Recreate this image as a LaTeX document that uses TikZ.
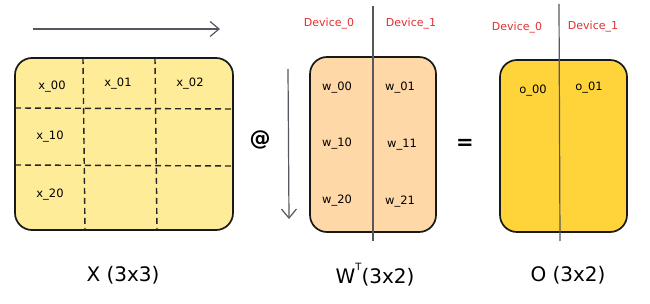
\documentclass[tikz,border=0pt]{standalone}
\usepackage{fontspec}
\setmainfont{DejaVu Sans}
\usetikzlibrary{arrows.meta}
\definecolor{xfill}{HTML}{FFEC99}
\definecolor{wfill}{HTML}{FFD8A8}
\definecolor{ofill}{HTML}{FFD43B}
\definecolor{devred}{HTML}{E03131}
\definecolor{linegray}{HTML}{55585E}
\tikzset{
  matbox/.style={draw=black!90, line width=1.7pt, rounded corners=17pt, inner sep=0pt},
  cell/.style={font=\fontsize{11.5}{13}\selectfont, inner sep=1pt},
  devlabel/.style={font=\fontsize{11}{13}\selectfont, text=devred, inner sep=1pt},
  caption/.style={font=\fontsize{20}{24}\selectfont, inner sep=1pt},
  sym/.style={font=\bfseries\fontsize{21}{24}\selectfont, inner sep=1pt},
  gridline/.style={dashed, dash pattern=on 6pt off 4pt, line width=1.4pt, black!85},
  splitline/.style={linegray, line width=1.2pt},
  flow/.style={linegray, line width=1.2pt, -{Straight Barb[length=9pt,width=15pt]}},
}
\begin{document}
\begin{tikzpicture}[x=1pt,y=-1pt]
\useasboundingbox (0,0) rectangle (650,304);
% boxes
\node[matbox, fill=xfill, minimum width=218pt, minimum height=172pt] (X) at (124,144) {};
\node[matbox, fill=wfill, minimum width=126pt, minimum height=175pt] (W) at (373,144.5) {};
\node[matbox, fill=ofill, minimum width=127pt, minimum height=172pt] (O) at (563.5,146) {};
% grid in X
\coordinate (v1t) at (83,58); \coordinate (v1b) at (85,230);
\coordinate (v2t) at (155,58); \coordinate (v2b) at (157,230);
\coordinate (h1l) at (15,108); \coordinate (h1r) at (233,109);
\coordinate (h2l) at (15,165); \coordinate (h2r) at (233,166);
\draw[gridline] (v1t) -- (v1b);
\draw[gridline] (v2t) -- (v2b);
\draw[gridline] (h1l) -- (h1r);
\draw[gridline] (h2l) -- (h2r);
% split lines
\coordinate (ws) at (373,6); \coordinate (we) at (373,241);
\draw[splitline] (ws) -- (we);
\coordinate (os) at (559,4); \coordinate (oe) at (560,241);
\draw[splitline] (os) -- (oe);
% arrows
\coordinate (ra) at (33,29); \coordinate (rb) at (220,29);
\draw[flow] (ra) -- (rb);
\coordinate (da) at (288,69); \coordinate (db) at (289,219);
\draw[flow] (da) -- (db);
% cells
\node[cell] (x00) at (52,87) {x\_00};
\node[cell] (x01) at (118,84) {x\_01};
\node[cell] (x02) at (190,84) {x\_02};
\node[cell] (x10) at (50,137) {x\_10};
\node[cell] (x20) at (50,195) {x\_20};
\node[cell] (w00) at (337,88) {w\_00};
\node[cell] (w01) at (400,88) {w\_01};
\node[cell] (w10) at (337,144) {w\_10};
\node[cell] (w11) at (402,145) {w\_11};
\node[cell] (w20) at (337,201) {w\_20};
\node[cell] (w21) at (400,202) {w\_21};
\node[cell] (o00) at (533,91) {o\_00};
\node[cell] (o01) at (589,88) {o\_01};
% devices
\node[devlabel] (wd0) at (329,24) {Device\_0};
\node[devlabel] (wd1) at (411,24) {Device\_1};
\node[devlabel] (od0) at (517,28) {Device\_0};
\node[devlabel] (od1) at (593,27) {Device\_1};
% operators
\node[sym] (at) at (260,140) {@};
\node[sym] (eq) at (465,144) {=};
% captions
\node[caption] (cx) at (123,275) {X (3x3)};
\node[caption] (cw) at (375,275) {W\raisebox{1.2ex}{\fontsize{10}{11}\selectfont T}(3x2)};
\node[caption] (co) at (568,275) {O (3x2)};
\end{tikzpicture}
\end{document}
